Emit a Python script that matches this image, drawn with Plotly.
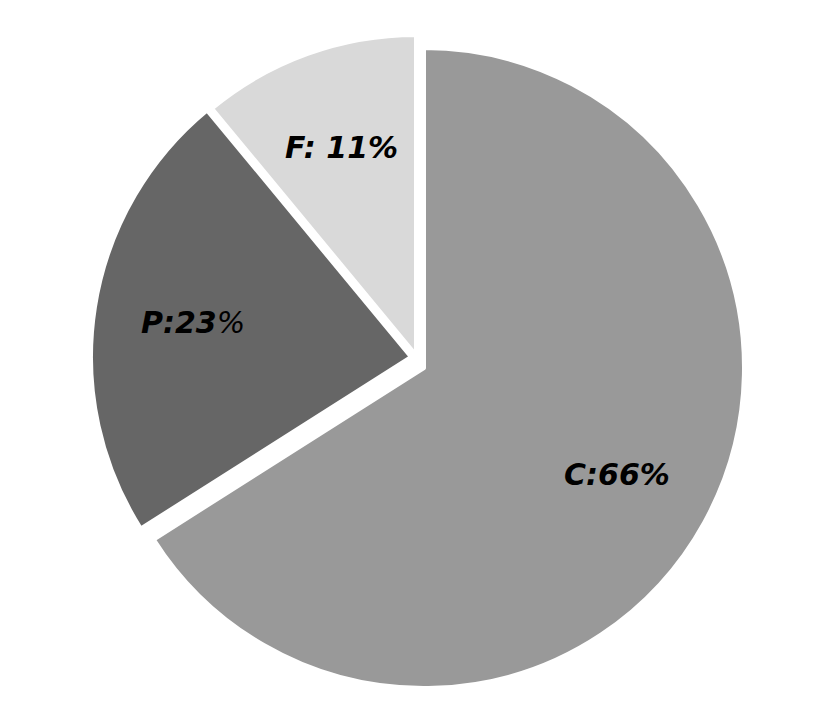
import math
import plotly.graph_objects as go

labels = ["C", "P", "F"]
values = [66, 23, 11]
label_texts = ["<b><i>C:66%</i></b>", "<b><i>P:23</i></b><i>%</i>", "<b><i>F: 11%</i></b>"]
colors = ["#999999", "#666666", "#d9d9d9"]
# exploded offsets of each slice (pixels, x right / y down)
offsets = [(0, 0), (-13, -11), (-8, -13)]

W, H = 824, 712
cx, cy, r = 416, 360, 320   # pie centre / radius in figure pixels
line_w = 4

fig = go.Figure()
total = sum(values)
start = 0.0
annotations = []
for i, (lab, t, (dx, dy)) in enumerate(zip(labels, label_texts, offsets)):
    ccx, ccy = cx + dx, cy + dy
    slice_colors = [colors[j] if j == i else "rgba(0,0,0,0)" for j in range(len(values))]
    widths = [line_w if j == i else 0 for j in range(len(values))]
    fig.add_trace(go.Pie(
        labels=labels,
        values=values,
        textinfo="none",
        sort=False,
        direction="clockwise",
        rotation=0,
        marker=dict(colors=slice_colors, line=dict(color="white", width=widths)),
        domain=dict(x=[(ccx - r) / W, (ccx + r) / W],
                    y=[(H - ccy - r) / H, (H - ccy + r) / H]),
        showlegend=False,
        hoverinfo="skip",
    ))
    v = values[i]
    mid = (start + v / 2) / total * 2 * math.pi
    start += v
    lx = ccx + 0.69 * r * math.sin(mid)
    ly = ccy - 0.69 * r * math.cos(mid)
    annotations.append(dict(
        x=lx / W, y=(H - ly) / H, xref="paper", yref="paper",
        text=t, showarrow=False, xanchor="center", yanchor="middle",
        font=dict(family="DejaVu Sans", size=30, color="black"),
    ))

fig.update_layout(
    width=W, height=H,
    margin=dict(l=0, r=0, t=0, b=0),
    paper_bgcolor="white",
    plot_bgcolor="white",
    annotations=annotations,
)

fig.write_html("out.html")
